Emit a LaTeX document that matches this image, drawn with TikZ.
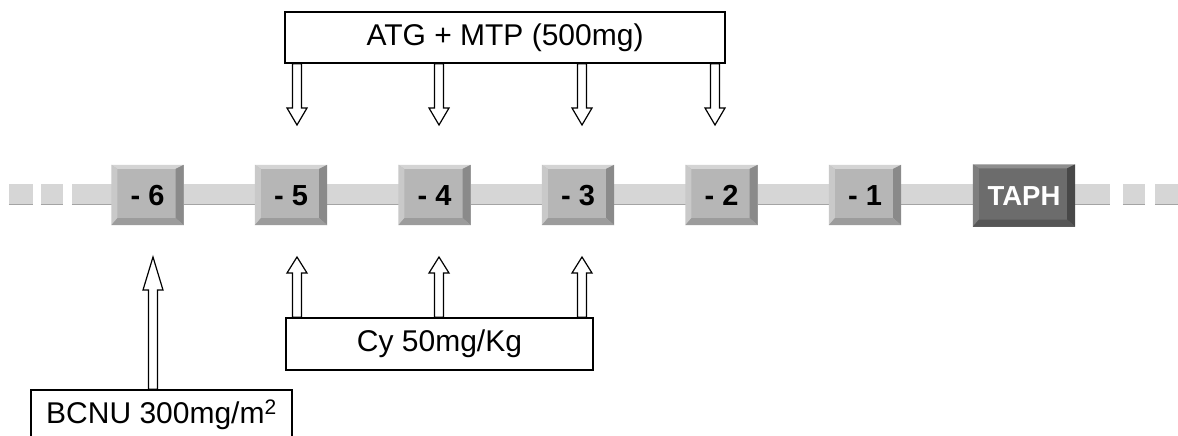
\documentclass[tikz,border=0pt]{standalone}
\usepackage{fontspec}
\setmainfont{Liberation Sans}
\usetikzlibrary{calc}
\definecolor{dayface}{HTML}{B6B6B6}
\definecolor{daytop}{HTML}{D4D4D4}
\definecolor{dayleft}{HTML}{C9C9C9}
\definecolor{dayright}{HTML}{8A8A8A}
\definecolor{daybottom}{HTML}{9C9C9C}
\definecolor{taphface}{HTML}{6C6C6C}
\definecolor{taphtop}{HTML}{8E8E8E}
\definecolor{taphleft}{HTML}{7E7E7E}
\definecolor{taphright}{HTML}{484848}
\definecolor{taphbottom}{HTML}{565656}
\definecolor{trackgray}{HTML}{D6D6D6}
\definecolor{trackedge}{HTML}{A4A4A4}
\newcommand\bevel[5]{%
  \fill[#2] (#1.north west) -- (#1.north east) -- ($(#1.north east)+(-8,4)$) -- ($(#1.north west)+(6,4)$) -- cycle;
  \fill[#3] (#1.north west) -- ($(#1.north west)+(6,4)$) -- ($(#1.south west)+(6,-7)$) -- (#1.south west) -- cycle;
  \fill[#4] (#1.north east) -- (#1.south east) -- ($(#1.south east)+(-8,-7)$) -- ($(#1.north east)+(-8,4)$) -- cycle;
  \fill[#5] (#1.south west) -- (#1.south east) -- ($(#1.south east)+(-8,-7)$) -- ($(#1.south west)+(6,-7)$) -- cycle;
}
\newcommand\blockarr[3]{%
  \draw[blockarrow] let \p1=(#1), \p2=(#2), \n1={sign(\y1-\y2)} in
    ({\x1-4.5pt},\y1) -- ({\x1-4.5pt},{\y2+\n1*#3}) -- ({\x1-10pt},{\y2+\n1*#3})
    -- (\x1,\y2) -- ({\x1+10pt},{\y2+\n1*#3}) -- ({\x1+4.5pt},{\y2+\n1*#3})
    -- ({\x1+4.5pt},\y1) -- cycle;
}
\begin{document}
\begin{tikzpicture}[x=1pt,y=-1pt,
  daybox/.style={rectangle, fill=dayface, minimum width=72pt, minimum height=60pt, inner sep=0pt,
    text height=20pt, text depth=0pt, font=\fontsize{29}{32}\selectfont\bfseries},
  taphbox/.style={rectangle, fill=taphface, minimum width=102pt, minimum height=62pt, inner sep=0pt,
    text height=19.5pt, text depth=0pt, text=white, font=\fontsize{27.5}{30}\selectfont\bfseries},
  labelbox/.style={rectangle, draw=black, line width=1.4pt, fill=white, inner sep=0pt,
    font=\fontsize{30}{34}\selectfont},
  blockarrow/.style={draw=black, line width=1.2pt, fill=white, line join=miter},
  track/.style={rectangle, fill=trackgray, inner sep=0pt, minimum height=20pt},
  trackline/.style={draw=trackedge, line width=1.2pt}
]
\useasboundingbox (0,0) rectangle (1178,436);
\fill[white] (0,0) rectangle (1178,436);

% track
\node[track, minimum width=1038pt] (bar) at (591,194) {};
\node[track, minimum width=24pt] (sqa) at (21,194) {};
\node[track, minimum width=22pt] (sqb) at (52,194) {};
\node[track, minimum width=22pt] (sqc) at (1134,194) {};
\node[track, minimum width=24pt] (sqd) at (1167,194) {};
\foreach \s in {bar,sqa,sqb,sqc,sqd}{
  \draw[trackline] (\s.south west) -- (\s.south east);
}

% day boxes
\node[daybox] (d6) at (147.5,195) {};
\node[daybox] (d5) at (291,195) {};
\node[daybox] (d4) at (434.5,195) {};
\node[daybox] (d3) at (578,195) {};
\node[daybox] (d2) at (721.5,195) {};
\node[daybox] (d1) at (865,195) {};
\foreach \d in {d6,d5,d4,d3,d2,d1}{
  \bevel{\d}{daytop}{dayleft}{dayright}{daybottom}
}
\foreach \d/\t in {d6/6,d5/5,d4/4,d3/3,d2/2,d1/1}{
  \node[daybox, fill=none] at (\d.center) {- \t};
}
\node[taphbox] (taph) at (1024,195.5) {};
\bevel{taph}{taphtop}{taphleft}{taphright}{taphbottom}
\node[taphbox, fill=none] at (taph.center) {TAPH};

% label boxes
\node[labelbox, minimum width=440pt, minimum height=51pt] (atg) at (505,37.5) {ATG + MTP (500mg)};
\node[labelbox, minimum width=307pt, minimum height=52pt] (cy) at (439.5,344) {Cy 50mg/Kg};
\node[labelbox, minimum width=261pt, minimum height=50pt] (bcnu) at (161.5,415) {BCNU 300mg/m\textsuperscript{2}};

% arrow tips
\coordinate (t5) at (297,125);
\coordinate (t4) at (439,125);
\coordinate (t3) at (582,125);
\coordinate (t2) at (715,125);
\coordinate (c5) at (297,257);
\coordinate (c4) at (439,257);
\coordinate (c3) at (582,257);
\coordinate (b6) at (153,257);

\blockarr{atg.south -| t5}{t5}{17pt}
\blockarr{atg.south -| t4}{t4}{17pt}
\blockarr{atg.south -| t3}{t3}{17pt}
\blockarr{atg.south -| t2}{t2}{17pt}
\blockarr{cy.north -| c5}{c5}{16pt}
\blockarr{cy.north -| c4}{c4}{16pt}
\blockarr{cy.north -| c3}{c3}{16pt}
\blockarr{bcnu.north -| b6}{b6}{33pt}
\end{tikzpicture}
\end{document}
